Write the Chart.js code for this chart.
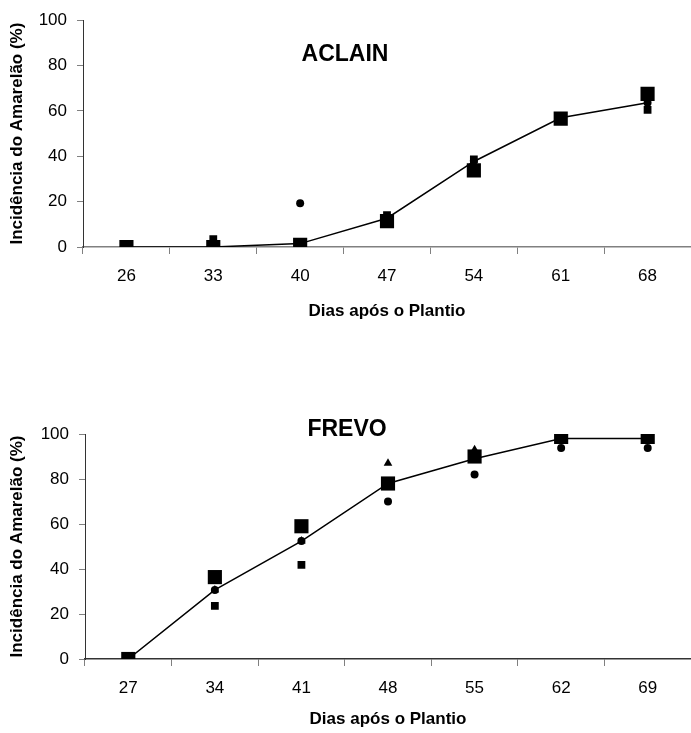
<!DOCTYPE html>
<html>
<head>
<meta charset="utf-8">
<script src="https://cdn.jsdelivr.net/npm/chart.js@4.4.1/dist/chart.umd.min.js"></script>
<style>
  html, body { margin: 0; padding: 0; background: #fff; }
  body { width: 691px; height: 733px; position: relative; overflow: hidden; }
  .box { position: absolute; left: 0; width: 701px; }
  #b1 { top: 0; height: 335px; }
  #b2 { top: 380px; height: 353px; }
</style>
</head>
<body>
<div class="box" id="b1"><canvas id="c1"></canvas></div>
<div class="box" id="b2"><canvas id="c2"></canvas></div>
<script>
// ---- data ----
const daysAclain = ['26', '33', '40', '47', '54', '61', '68'];
const aclainLine = [0, 0, 1.5, 12.7, 37.7, 57, 63.6];
const aclainBigSq = [0, 0, 1, 11.4, 33.8, 56.6, 67.5];
const aclainSmallSq = [0, 3.5, 2, 14, 38.6, 57.5, 60.5];
const aclainCircle = [0, 0, 19.3, 13, 38, 57, 63.6];

const daysFrevo = ['27', '34', '41', '48', '55', '62', '69'];
const frevoLine = [0, 30.7, 52.4, 78, 89, 98, 98];
const frevoBigSq = [0, 36.4, 59, 78, 90, 98.7, 98.7];
const frevoSmallSq = [0, 23.6, 41.8, 78, 90, 98.7, 98.7];
const frevoCircle = [0, 30.7, 52.4, 70, 82, 93.8, 93.8];
const frevoTriangle = [0, 30.7, 52.4, 87, 93, 98, 98];

const yTicks = [0, 20, 40, 60, 80, 100];
const yTitle = 'Incidência do Amarelão (%)';
const xTitle = 'Dias após o Plantio';

const FONT = "'Liberation Sans', Arial, sans-serif";

function innerTitle(text, px, py) {
  return {
    id: 'innerTitle',
    afterDatasetsDraw(chart) {
      const ctx = chart.ctx;
      ctx.save();
      ctx.font = 'bold 23px ' + FONT;
      ctx.fillStyle = '#000';
      ctx.textAlign = 'center';
      ctx.textBaseline = 'middle';
      ctx.fillText(text, px, py);
      ctx.restore();
    }
  };
}

function makeChart(id, labels, sets, title, opts) {
  const ds = [
    { type: 'line', data: sets.line, borderColor: '#000', borderWidth: 1.5, pointRadius: 0, fill: false, tension: 0, order: 0 },
    { type: 'line', data: sets.big, showLine: false, pointStyle: 'rect', pointRadius: 10, pointHoverRadius: 10, backgroundColor: '#000', borderColor: '#000', borderWidth: 0, order: 1 },
  ];
  if (sets.tri) ds.push({ type: 'line', data: sets.tri, showLine: false, pointStyle: 'triangle', pointRadius: 5, backgroundColor: '#000', borderColor: '#000', borderWidth: 0, order: 2 });
  ds.push({ type: 'line', data: sets.circle, showLine: false, pointStyle: 'circle', pointRadius: 4, backgroundColor: '#000', borderColor: '#000', borderWidth: 0, order: 3 });
  ds.push({ type: 'line', data: sets.small, showLine: false, pointStyle: 'rect', pointRadius: 5.5, backgroundColor: '#000', borderColor: '#000', borderWidth: 0, order: 4 });

  return new Chart(document.getElementById(id), {
    type: 'line',
    data: { labels: labels, datasets: ds },
    options: {
      responsive: true,
      maintainAspectRatio: false,
      animation: false,
      events: [],
      layout: { padding: { top: opts.padTop, right: 0, bottom: 0, left: 0 } },
      plugins: { legend: { display: false }, tooltip: { enabled: false }, title: { display: false } },
      scales: {
        x: {
          type: 'category',
          offset: true,
          grid: { offset: true, drawOnChartArea: false, drawTicks: true, tickLength: 7, tickColor: '#808080', lineWidth: 1 },
          border: { display: true, color: opts.xAxisColor, width: 1.5 },
          ticks: { color: '#000', font: { family: FONT, size: 17 }, padding: 12, maxRotation: 0, autoSkip: false },
          title: { display: true, text: xTitle, color: '#000', font: { family: FONT, size: 17, weight: 'bold' }, padding: { top: 0, bottom: opts.xTitlePad } },
          afterFit(scale) { scale.height = opts.xHeight; }
        },
        y: {
          min: 0, max: 100,
          afterBuildTicks(scale) { scale.ticks = yTicks.map(v => ({ value: v })); },
          grid: { drawOnChartArea: false, drawTicks: true, tickLength: 6, tickColor: '#808080' },
          border: { display: true, color: '#333', width: 1 },
          ticks: { color: '#000', font: { family: FONT, size: 17 }, padding: 10 },
          title: { display: true, text: yTitle, color: '#000', font: { family: FONT, size: 17, weight: 'bold' }, padding: { top: 7, bottom: 0 } },
          afterFit(scale) { scale.width = opts.yWidth; }
        }
      }
    },
    plugins: [innerTitle(title, opts.tx, opts.ty)]
  });
}

makeChart('c1', daysAclain,
  { line: aclainLine, big: aclainBigSq, small: aclainSmallSq, circle: aclainCircle },
  'ACLAIN',
  { padTop: 19, xHeight: 88, yWidth: 83, xTitlePad: 13, xAxisColor: '#808080', tx: 345, ty: 55 });

makeChart('c2', daysFrevo,
  { line: frevoLine, big: frevoBigSq, small: frevoSmallSq, circle: frevoCircle, tri: frevoTriangle },
  'FREVO',
  { padTop: 54, xHeight: 74, yWidth: 85, xTitlePad: 3, xAxisColor: '#333', tx: 347, ty: 50 });
</script>
</body>
</html>
